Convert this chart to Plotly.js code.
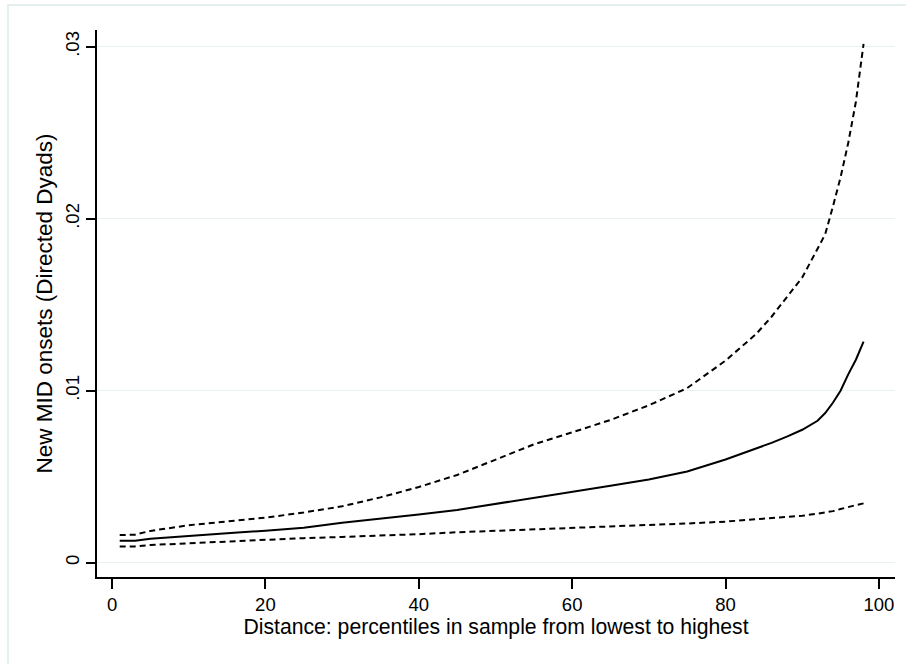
<!DOCTYPE html>
<html>
<head>
<meta charset="utf-8">
<script src="https://cdn.plot.ly/plotly-3.0.1.min.js"></script>
<style>html,body{margin:0;padding:0;background:#fff;}#chart{width:906px;height:664px;}</style>
</head>
<body>
<div id="chart"></div>
<script>
// Percentile of distance (x)
const percentiles = [1, 3, 5, 10, 15, 20, 25, 30, 35, 40, 45, 50, 55, 60, 65, 70, 75, 80, 84, 86, 88, 90, 92, 93, 94, 95, 96, 97, 98];
// Predicted probability of new MID onset
const estimate = [0.00128, 0.00128, 0.00140, 0.00158, 0.00172, 0.00186, 0.00203, 0.00233, 0.00255, 0.00280, 0.00307, 0.00341, 0.00378, 0.00413, 0.00447, 0.00484, 0.00530, 0.00600, 0.00663, 0.00697, 0.00733, 0.00773, 0.00825, 0.00870, 0.00930, 0.01000, 0.01095, 0.01180, 0.01285];
// Upper confidence bound
const upperCI = [0.00161, 0.00163, 0.00185, 0.00218, 0.00240, 0.00262, 0.00292, 0.00328, 0.00380, 0.00440, 0.00510, 0.00600, 0.00688, 0.00758, 0.00830, 0.00915, 0.01015, 0.01175, 0.01330, 0.01430, 0.01543, 0.01658, 0.01825, 0.01910, 0.02070, 0.02240, 0.02440, 0.02680, 0.03016];
// Lower confidence bound
const lowerCI = [0.00095, 0.00095, 0.00103, 0.00114, 0.00125, 0.00135, 0.00143, 0.00150, 0.00157, 0.00166, 0.00177, 0.00185, 0.00193, 0.00200, 0.00208, 0.00219, 0.00228, 0.00239, 0.00252, 0.00257, 0.00264, 0.00273, 0.00285, 0.00292, 0.00300, 0.00312, 0.00325, 0.00335, 0.00345];

const xTickVals = [0, 20, 40, 60, 80, 100];
const yTickVals = [0, 0.01, 0.02, 0.03];
const yTickText = ["0", ".01", ".02", ".03"];

const FONT = "Liberation Sans, Arial, Helvetica, sans-serif";

const traces = [
  {x: percentiles, y: upperCI, mode: "lines", line: {color: "#000", width: 2, dash: "6px,4px"}, hoverinfo: "skip"},
  {x: percentiles, y: estimate, mode: "lines", line: {color: "#000", width: 2}, hoverinfo: "skip"},
  {x: percentiles, y: lowerCI, mode: "lines", line: {color: "#000", width: 2, dash: "6px,4px"}, hoverinfo: "skip"}
];

const layout = {
  width: 906, height: 664,
  margin: {l: 97, r: 11, t: 30, b: 87},
  paper_bgcolor: "#fff", plot_bgcolor: "#fff",
  showlegend: false,
  font: {family: FONT, size: 18.5, color: "#000"},
  xaxis: {
    range: [-1.96, 102.1], tickvals: xTickVals, ticks: "outside", ticklen: 10, tickwidth: 2, tickcolor: "#000",
    showline: true, linecolor: "#000", linewidth: 2, showgrid: false, zeroline: false,
    tickfont: {family: FONT, size: 18.5, color: "#000"},
    title: {text: "Distance: percentiles in sample from lowest to highest", font: {family: FONT, size: 21.2, color: "#000"}, standoff: 4}
  },
  yaxis: {
    range: [-0.00083, 0.03097], tickvals: yTickVals, ticktext: yTickText, tickangle: -90,
    ticks: "outside", ticklen: 9, tickwidth: 2, tickcolor: "#000",
    showline: true, linecolor: "#000", linewidth: 2, showgrid: true, gridcolor: "#e9f1f1", gridwidth: 1.5, zeroline: false,
    tickfont: {family: FONT, size: 18.5, color: "#000"},
    title: {text: "New MID onsets (Directed Dyads)", font: {family: FONT, size: 22.5, color: "#000"}, standoff: 3}
  },
  shapes: [
    {type: "rect", xref: "paper", yref: "paper", x0: -0.1115, x1: 1.05, y0: -0.25, y1: 1.0457,
     line: {color: "#e6efef", width: 2}, fillcolor: "rgba(0,0,0,0)", layer: "below"}
  ]
};

Plotly.newPlot("chart", traces, layout, {displayModeBar: false, staticPlot: true});
</script>
</body>
</html>
